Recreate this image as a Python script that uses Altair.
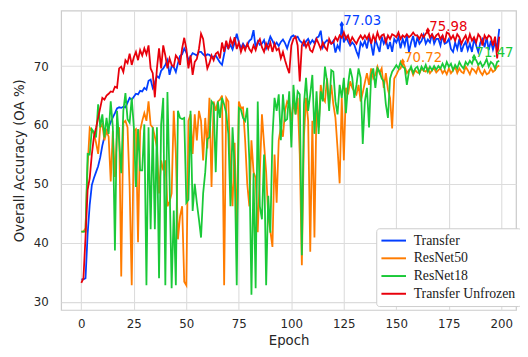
import altair as alt
import pandas as pd
import numpy as np

epochs = list(range(200))

transfer = [
    33.8, 33.8, 34.0, 41.5, 46.5, 49.8, 51.0, 52.0, 53.0, 54.5,
    56.5, 58.0, 58.8, 59.6, 60.5, 61.3, 62.0, 62.8, 63.0, 62.9,
    63.1, 63.0, 63.8, 64.6, 64.3, 64.8, 65.3, 65.2, 65.8, 65.7,
    66.3, 66.0, 67.5, 67.7, 66.3, 67.2, 68.3, 68.0, 69.2, 69.6,
    70.2, 71.0, 68.5, 70.0, 69.8, 69.0, 70.5, 71.7, 72.0, 73.0,
    72.3, 71.0, 71.6, 72.2, 72.0, 71.8, 72.4, 72.4, 72.0, 71.7,
    72.0, 71.9, 71.5, 71.6, 71.8, 71.2, 70.6, 70.2, 72.0, 73.8,
    73.0, 73.6, 72.8, 74.0, 75.5, 74.0, 73.0, 73.8, 73.2, 73.5,
    74.3, 74.6, 76.1, 73.0, 74.2, 73.6, 73.8, 74.4, 73.0, 73.9,
    75.0, 74.3, 73.5, 74.0, 73.4, 74.1, 74.5, 73.9, 73.0, 74.2,
    75.0, 75.2, 74.8, 75.0, 74.3, 74.0, 73.5, 74.2, 74.6, 73.8,
    74.4, 73.9, 74.8, 75.0, 76.0, 73.2, 74.0, 74.4, 74.1, 73.8,
    74.3, 72.3, 73.5, 72.8, 77.03, 74.0, 75.0, 74.2, 73.5, 74.0,
    73.6, 72.5, 71.6, 74.0, 73.4, 74.3, 73.0, 75.0, 73.7, 71.8,
    74.6, 73.5, 72.4, 75.0, 73.8, 74.6, 72.9, 74.1, 72.4, 74.6,
    74.0, 74.9, 73.0, 74.6, 73.5, 75.2, 72.4, 74.0, 75.1, 73.2,
    74.9, 73.8, 74.3, 75.3, 73.8, 74.5, 74.0, 75.5, 73.8, 74.6,
    74.6, 73.5, 75.2, 73.8, 74.0, 74.6, 72.9, 72.4, 74.0, 72.9,
    74.6, 72.4, 73.5, 74.1, 72.7, 73.8, 72.4, 74.6, 73.5, 72.4,
    74.0, 74.6, 73.2, 74.9, 72.7, 74.3, 72.8, 74.0, 73.2, 76.3,
]

resnet50 = [
    41.9, 41.9, 42.5, 53.0, 59.5, 59.0, 58.5, 57.0, 55.1, 59.6,
    60.1, 57.4, 59.0, 58.0, 50.4, 59.0, 51.2, 58.5, 59.6, 34.3,
    60.4, 60.7, 59.6, 49.5, 32.8, 59.0, 59.3, 40.1, 59.0, 60.7,
    62.0, 60.7, 64.0, 60.0, 59.6, 58.0, 56.2, 48.4, 54.0, 52.3,
    54.0, 46.2, 47.0, 48.4, 62.4, 55.1, 40.6, 44.5, 46.2, 33.4,
    32.8, 60.7, 61.8, 55.1, 61.8, 57.4, 62.4, 60.7, 54.0, 61.2,
    56.0, 64.6, 49.5, 64.0, 62.4, 64.0, 64.3, 65.0, 32.8, 64.6,
    64.0, 52.0, 46.2, 57.0, 41.0, 64.0, 62.9, 63.0, 57.4, 50.0,
    46.2, 57.4, 52.0, 51.0, 41.8, 51.8, 61.8, 56.8, 52.0, 44.5,
    42.0, 39.3, 55.0, 46.8, 57.4, 59.6, 58.0, 62.4, 64.0, 63.5,
    60.7, 64.0, 61.8, 64.6, 55.0, 36.2, 58.0, 64.6, 60.7, 38.5,
    60.7, 40.9, 64.0, 59.6, 66.8, 64.6, 64.0, 67.9, 63.5, 66.8,
    63.5, 61.2, 56.0, 50.1, 64.6, 54.0, 66.3, 65.2, 67.4, 66.3,
    65.7, 65.2, 66.8, 64.0, 65.5, 67.2, 68.8, 66.8, 69.6, 67.9,
    68.5, 69.9, 68.8, 69.6, 66.3, 68.8, 66.0, 64.6, 59.4, 67.9,
    68.5, 69.3, 69.6, 70.72, 69.9, 68.8, 69.3, 69.6, 68.5, 69.3,
    68.9, 68.8, 69.6, 69.2, 69.05, 69.6, 68.8, 69.3, 69.6, 68.9,
    69.3, 69.6, 68.8, 69.3, 68.6, 69.6, 68.8, 69.3, 69.9, 68.8,
    69.6, 69.0, 68.8, 69.9, 69.3, 68.6, 69.6, 69.3, 68.8, 69.9,
    69.0, 68.5, 69.3, 68.6, 68.8, 69.6, 69.0, 69.3, 69.9, 70.1,
]

resnet18 = [
    41.9, 41.9, 41.9, 55.1, 55.0, 59.3, 58.8, 57.9, 63.5, 59.6,
    61.8, 57.9, 61.2, 58.5, 64.0, 59.6, 38.7, 62.4, 57.4, 51.8,
    62.4, 65.4, 61.0, 60.4, 64.6, 59.6, 49.5, 59.3, 52.3, 52.3,
    60.1, 32.8, 59.6, 42.3, 59.6, 42.3, 59.6, 34.0, 60.1, 64.6,
    32.8, 65.6, 50.7, 32.3, 45.5, 32.8, 62.4, 61.2, 61.0, 61.2,
    46.8, 47.3, 62.4, 45.4, 50.0, 46.8, 44.0, 40.9, 48.4, 52.0,
    57.6, 57.9, 64.0, 63.5, 52.0, 64.0, 61.2, 64.6, 63.5, 62.0,
    58.5, 46.2, 59.6, 52.9, 32.8, 62.9, 62.6, 61.2, 60.7, 62.9,
    54.0, 31.2, 51.8, 32.3, 64.0, 46.2, 44.0, 55.0, 32.8, 48.0,
    41.7, 58.0, 64.6, 62.4, 65.2, 57.4, 65.2, 60.7, 61.0, 65.7,
    56.2, 66.8, 61.8, 65.7, 65.2, 37.9, 63.5, 68.0, 62.4, 65.2,
    68.5, 58.5, 65.7, 58.5, 65.7, 64.0, 69.9, 67.4, 62.4, 69.3,
    69.05, 64.0, 61.8, 66.8, 64.6, 68.0, 62.0, 66.8, 69.6, 68.0,
    64.6, 66.8, 69.6, 68.0, 56.8, 64.0, 66.3, 59.6, 68.5, 69.6,
    66.3, 69.6, 69.05, 67.9, 67.4, 63.5, 61.2, 67.9, 69.05, 69.6,
    70.16, 69.6, 70.7, 69.9, 69.6, 66.8, 69.05, 69.9, 68.8, 69.6,
    69.9, 68.8, 69.9, 69.3, 70.2, 69.05, 69.9, 69.3, 70.0, 69.4,
    70.0, 69.6, 70.4, 69.6, 70.7, 69.9, 70.4, 69.3, 70.2, 69.6,
    70.7, 70.0, 69.6, 70.7, 70.2, 70.9, 70.4, 71.47, 71.0, 70.2,
    70.7, 69.9, 70.4, 71.2, 69.9, 70.7, 70.4, 69.6, 70.7, 70.9,
]

transfer_unfrozen = [
    33.2, 34.0, 41.0, 49.0, 51.0, 55.0, 58.0, 59.5, 61.2, 62.9,
    64.6, 64.3, 65.0, 65.3, 65.7, 65.6, 66.5, 66.3, 69.6, 69.9,
    69.0, 71.0, 70.5, 72.1, 70.2, 71.5, 72.4, 71.0, 72.7, 71.8,
    73.0, 72.0, 73.5, 69.6, 68.8, 64.7, 69.6, 73.0, 69.6, 73.5,
    71.8, 69.6, 71.3, 70.2, 69.9, 71.8, 71.3, 70.2, 73.0, 74.8,
    72.9, 69.6, 71.8, 68.5, 70.7, 71.2, 72.9, 75.5, 74.6, 71.8,
    69.6, 70.5, 71.8, 71.0, 72.1, 72.4, 71.3, 74.0, 72.4, 74.3,
    72.9, 74.6, 73.6, 74.9, 72.9, 74.0, 72.4, 73.5, 72.7, 73.8,
    72.9, 72.4, 73.5, 72.7, 74.0, 74.6, 73.2, 72.4, 73.8, 72.9,
    74.0, 72.4, 73.8, 72.7, 73.0, 71.3, 72.4, 71.0, 69.8, 68.8,
    73.5, 74.6, 75.0, 73.5, 67.4, 73.5, 74.3, 73.2, 74.0, 72.7,
    72.4, 73.5, 74.6, 73.8, 72.9, 74.0, 73.2, 72.7, 74.6, 73.8,
    74.0, 74.9, 74.3, 75.2, 74.8, 75.7, 74.6, 75.2, 74.0, 74.9,
    74.3, 73.8, 74.6, 75.2, 74.6, 75.2, 74.6, 75.4, 73.8, 75.2,
    74.3, 75.7, 74.6, 75.2, 75.4, 74.0, 75.2, 74.6, 75.4, 75.2,
    74.9, 75.7, 74.6, 75.2, 74.9, 75.4, 74.9, 75.2, 75.7, 75.2,
    75.2, 74.6, 75.4, 74.9, 75.5, 75.98, 74.9, 75.4, 74.6, 75.2,
    75.5, 74.6, 75.2, 74.0, 75.7, 75.5, 74.6, 75.2, 74.3, 75.4,
    74.9, 73.8, 74.6, 75.2, 74.1, 75.4, 74.3, 74.9, 74.0, 75.4,
    74.9, 73.5, 75.2, 74.6, 75.2, 74.9, 73.5, 75.0, 71.3, 75.0,
]

names = ["Transfer", "ResNet50", "ResNet18", "Transfer Unfrozen"]
colors = ["#023eff", "#ff7c00", "#1ac938", "#e8000b"]
series = [transfer, resnet50, resnet18, transfer_unfrozen]
x_ticks = [0, 25, 50, 75, 100, 125, 150, 175, 200]
y_ticks = [30, 40, 50, 60, 70]

rows = []
for n, s in zip(names, series):
    for e, v in zip(epochs, s):
        rows.append({"Epoch": e, "Accuracy": v, "Model": n})
df = pd.DataFrame(rows)

peaks = pd.DataFrame([
    {"Epoch": epochs[int(np.argmax(s))], "Accuracy": float(max(s)),
     "Model": n, "label": f"{max(s):.2f}"}
    for n, s in zip(names, series)
])

xscale = alt.Scale(domain=[-9.6, 207.0], nice=False, zero=False)
yscale = alt.Scale(domain=[28.6, 79.4], nice=False, zero=False)

x_enc = alt.X("Epoch:Q", scale=xscale,
              axis=alt.Axis(values=x_ticks, title="Epoch", format="d"))
y_enc = alt.Y("Accuracy:Q", scale=yscale,
              axis=alt.Axis(values=y_ticks, title="Overall Accuracy (OA %)", format="d"))

legend = alt.Legend(
    title=None, orient="none", legendX=320, legendY=221,
    fillColor="#ffffff", strokeColor="#cccccc", cornerRadius=3,
    padding=5, symbolType="M-1.16,0L2.84,0", symbolSize=156, symbolStrokeWidth=2,
    labelOffset=18, rowPadding=3, labelColor="#1a1a1a",
    labelFont="Liberation Serif", labelFontSize=14,
)
color_enc = alt.Color("Model:N", scale=alt.Scale(domain=names, range=colors),
                      legend=legend)

text_layers = [
    alt.Chart(peaks).transform_filter(alt.datum.Model == n).mark_text(
        align="left", baseline="alphabetic", dx=1.5, font="DejaVu Sans",
        fontSize=13.5, color=c
    ).encode(x=x_enc, y=y_enc, text="label:N")
    for n, c in zip(names, colors)
]

line_layer = alt.Chart(df).mark_line(strokeWidth=1.8).encode(
    x=x_enc, y=y_enc, color=color_enc,
    order=alt.Order("Epoch:Q"),
)

point_layers = [
    alt.Chart(peaks).transform_filter(alt.datum.Model == n).mark_point(
        shape="M0,-1L0.6,0L0,1L-0.6,0Z", filled=True, size=55, opacity=1, color=c
    ).encode(x=x_enc, y=y_enc)
    for n, c in zip(names, colors)
]

chart = alt.layer(line_layer, *text_layers, *point_layers).properties(
    width=462, height=304,
    autosize=alt.AutoSizeParams(type="none"),
    padding={"left": 54, "top": 0, "right": 4, "bottom": 45},
).configure_view(
    stroke="#cccccc", strokeWidth=1.25
).configure_axis(
    domain=False, ticks=False, grid=True, gridColor="#dcdcdc", gridWidth=1.1,
    labelColor="#262626", labelFont="DejaVu Sans", labelFontSize=12,
    titleColor="#262626", titleFont="DejaVu Sans", titleFontSize=13.5,
    titleFontWeight="normal",
).configure_axisX(
    labelPadding=9, titlePadding=4,
).configure_axisY(
    labelPadding=13, titlePadding=7,
)

chart.save("out.html", embed_options={"renderer": "svg", "actions": False})
